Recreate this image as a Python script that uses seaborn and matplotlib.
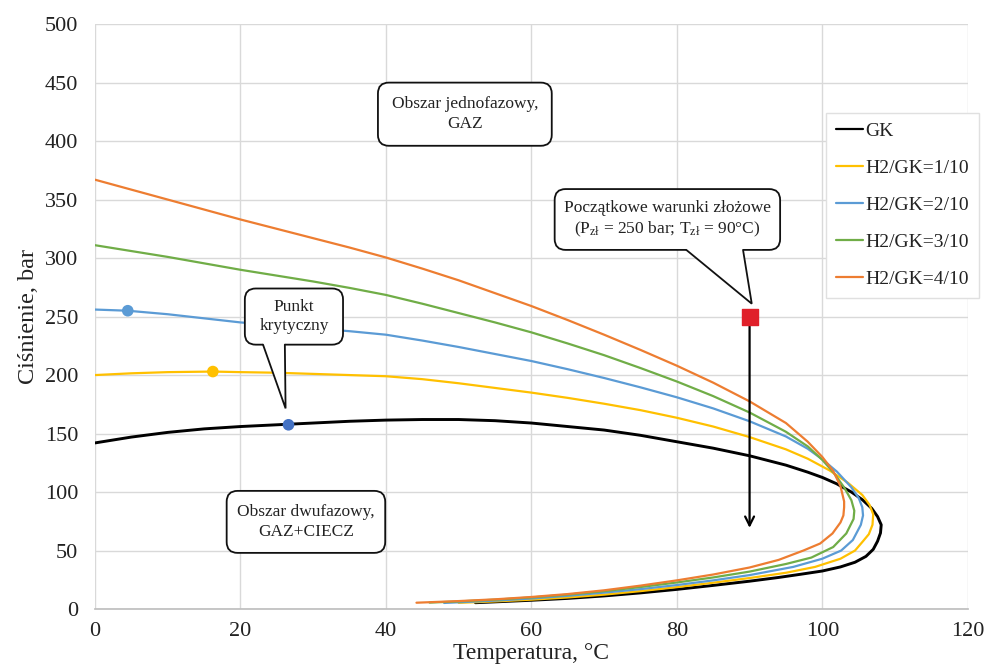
import pandas as pd
import numpy as np
import matplotlib
matplotlib.use("Agg")
import matplotlib.pyplot as plt
from matplotlib.patches import FancyBboxPatch, Polygon
import seaborn as sns

# Phase envelopes: upper branch from T=0 to the nose, then lower branch back
gk_t = [0, 5, 10, 15, 20, 25, 30, 35, 40, 45, 50, 55, 60, 65, 70, 75, 80, 85, 90, 95, 98,
        100, 102, 104, 105.5, 106.8, 107.6, 108.1, 108, 107.6, 107, 106, 104.5, 102.5, 100,
        97, 94, 90, 85, 80, 75, 70, 65, 60, 56, 52.3]
gk_p = [142, 147, 151, 154, 156, 157.5, 159, 160.5, 161.5, 162, 162, 161, 159, 156, 153,
        148.5, 143, 137.5, 131, 123, 117, 112.5, 107, 100, 93.5, 86, 79, 72, 65, 58, 51, 45,
        40, 36, 32.5, 29.7, 27, 23.8, 20.2, 16.8, 13.8, 11.2, 9.1, 7.5, 6.4, 5.4]

h1_t = [0, 5, 10, 16.2, 20, 25, 30, 35, 40, 45, 50, 55, 60, 65, 70, 75, 80, 85, 90, 95, 98,
        101, 103.5, 105.5, 106.5, 107, 106.9, 106.4, 105.6, 104.5, 102.5, 99, 95, 90, 85,
        80, 75, 70, 65, 60, 55, 50]
h1_p = [200, 201.5, 202.5, 203, 202.5, 202, 201, 200, 199, 196.5, 193, 189, 185, 180.5,
        175.5, 170, 163.5, 156, 147, 136.5, 128.5, 118.5, 108, 97.5, 89, 81, 72, 64, 58, 50,
        43, 36, 31, 26.5, 22.5, 18.7, 15.3, 12.3, 9.9, 8, 6.5, 5.3]

h2_t = [0, 4.5, 10, 15, 20, 25, 30, 35, 40, 45, 50, 55, 60, 65, 70, 75, 80, 85, 90, 95, 98,
        100, 102, 104, 105, 105.5, 105.6, 105.3, 104.2, 102.6, 100, 96, 90, 85, 80, 75, 70,
        65, 60, 55, 48]
h2_p = [256, 255, 252, 248.5, 245, 242.5, 240, 237.5, 234.5, 229.5, 224, 218, 212, 205,
        197.5, 189.5, 181, 171.5, 160.5, 147.5, 137, 128, 117.5, 104, 95, 87, 80, 72, 59, 50,
        43, 36, 29, 24.5, 20.5, 17, 14, 11.3, 9, 7.2, 5.2]

h3_t = [0, 5, 10, 15, 20, 25, 30, 35, 40, 45, 50, 55, 60, 65, 70, 75, 80, 85, 90, 95, 98,
        100, 101.5, 103, 104, 104.4, 104.3, 103.3, 101.5, 98.5, 95, 90, 85, 80, 75, 70, 65,
        60, 55, 50, 46]
h3_p = [311, 306, 301, 295.5, 290, 285, 280, 274.5, 268.5, 261, 253, 245, 236.5, 227, 217,
        206, 194.5, 182, 168, 151.5, 139, 127.5, 117, 104, 93, 84, 77, 64.6, 53, 44, 38.5,
        32, 27, 22.7, 18.8, 15.3, 12.3, 9.9, 8, 6.5, 5.5]

h4_t = [0, 5, 10, 15, 20, 25, 30, 35, 40, 45, 50, 55, 60, 65, 70, 75, 80, 85, 90, 95, 98,
        100, 101.5, 102.5, 103, 103, 102.9, 102.5, 101.4, 99.7, 97.4, 94, 90, 85, 80, 75,
        70, 65, 60, 55, 50, 44.2]
h4_p = [367, 358.5, 350, 341.5, 333, 325, 317, 309, 300.5, 291, 281, 270, 259, 247, 234.5,
        221.5, 208, 193.5, 177.5, 159, 143, 130, 118, 105, 92, 87, 80, 74, 64.6, 56, 50, 42,
        35.5, 29.5, 24.5, 20, 16, 12.8, 10.3, 8.3, 6.8, 5.4]

series_names = ["GK", "H2/GK=1/10", "H2/GK=2/10", "H2/GK=3/10", "H2/GK=4/10"]
series_t = [gk_t, h1_t, h2_t, h3_t, h4_t]
series_p = [gk_p, h1_p, h2_p, h3_p, h4_p]
colors = ["#000000", "#FFC000", "#5B9BD5", "#70AD47", "#ED7D31"]
widths = [2.1, 1.6, 1.6, 1.6, 1.6]

# critical points
crit_t = [26.6, 16.2, 4.5]
crit_p = [157.5, 203, 255]
crit_c = ["#4472C4", "#FFC000", "#5B9BD5"]

# initial reservoir conditions
res_t = [90]
res_p = [250]
arrow_end_p = 67

sns.set_theme(style="whitegrid")
plt.rcParams['font.family'] = ['Liberation Serif', 'DejaVu Serif']
plt.rcParams['mathtext.fontset'] = 'custom'
plt.rcParams['mathtext.rm'] = 'Liberation Serif'
plt.rcParams['mathtext.it'] = 'Liberation Serif'

fig = plt.figure(figsize=(9.94, 6.70), dpi=100)
ax = fig.add_axes([0.0956, 0.091, 0.878, 0.873])

for name, t, p, c, w in zip(series_names, series_t, series_p, colors, widths):
    df = pd.DataFrame({'T': t, 'P': p})
    sns.lineplot(data=df, x='T', y='P', sort=False, estimator=None, color=c,
                 linewidth=w, label=name, ax=ax, zorder=3)

crit_df = pd.DataFrame({'T': crit_t, 'P': crit_p, 'c': crit_c})
sns.scatterplot(data=crit_df, x='T', y='P', hue='c', palette={c: c for c in crit_c},
                s=70, edgecolor='none', legend=False, ax=ax, zorder=4)
ax.scatter(res_t, res_p, marker='s', s=120, color='#E0202A', zorder=5)

ax.annotate('', xy=(res_t[0], arrow_end_p), xytext=(res_t[0], res_p[0] - 6),
            arrowprops=dict(arrowstyle='->', color='black', lw=1.6,
                            mutation_scale=16), zorder=4)

ax.set_xlim(0, 120)
ax.set_ylim(0, 500)
ax.set_xticks(np.arange(0, 121, 20))
ax.set_yticks(np.arange(0, 501, 50))
ax.grid(True, color='#D9D9D9', linewidth=1.0)
for s in ax.spines.values():
    s.set_visible(False)
ax.spines['bottom'].set_visible(True)
ax.spines['bottom'].set_color('#BFBFBF')
ax.set_facecolor('white')
ax.tick_params(axis='y', labelsize=16, colors='#222222', length=0, pad=12)
ax.tick_params(axis='x', labelsize=16, colors='#222222', length=0, pad=9)
ax.set_xlabel('Temperatura, °C', fontsize=17, color='#222222', labelpad=2)
ax.set_ylabel('Ciśnienie, bar', fontsize=17.5, color='#222222', labelpad=4)

# aspect of one x unit vs one y unit in pixels, so corners stay round
asp = (ax.get_position().width * 994 / 120) / (ax.get_position().height * 670 / 500)


def callout(x0, x1, y0, y1, text, base=None, tip=None):
    ax.add_patch(FancyBboxPatch((x0, y0), x1 - x0, y1 - y0,
                                boxstyle='round,pad=0,rounding_size=1.5',
                                mutation_aspect=asp, fc='white', ec='#111111',
                                lw=1.3, zorder=6))
    if base is not None:
        bl, br = base
        ax.add_patch(Polygon([(bl, y0 + 3), (bl, y0), tip, (br, y0), (br, y0 + 3)],
                             closed=True, fc='white', ec='none', zorder=6.5))
        ax.plot([bl, tip[0], br], [y0, tip[1], y0], color='#111111', lw=1.3,
                zorder=6.6, solid_joinstyle='miter')
    ax.text((x0 + x1) / 2, (y0 + y1) / 2, text, ha='center', va='center',
            fontsize=12.5, color='#222222', linespacing=1.3, zorder=7)


callout(38.9, 62.8, 396, 450, 'Obszar jednofazowy,\nGAZ')
callout(18.1, 39.9, 48, 101, 'Obszar dwufazowy,\nGAZ+CIECZ')
callout(20.6, 34.1, 226, 274, 'Punkt\nkrytyczny', base=(23.1, 26.1),
        tip=(crit_t[0] - 0.4, crit_p[0] + 14))
callout(63.2, 94.2, 307, 359,
        'Początkowe warunki złożowe\n(P$_{zł}$ = 250 bar; T$_{zł}$ = 90°C)',
        base=(81.3, 89.1), tip=(res_t[0] + 0.3, res_p[0] + 11))

leg = ax.legend(loc='lower left', bbox_to_anchor=(0.838, 0.532), fontsize=14,
                frameon=True, fancybox=False, edgecolor='#E0E0E0', framealpha=1,
                handlelength=1.4, handletextpad=0.1, labelspacing=1.0,
                borderpad=0.5, borderaxespad=0)
for line in leg.get_lines():
    line.set_linewidth(1.6)
for txt in leg.get_texts():
    txt.set_color('#222222')
leg.set_zorder(8)

fig.savefig('out.png', dpi=100)
